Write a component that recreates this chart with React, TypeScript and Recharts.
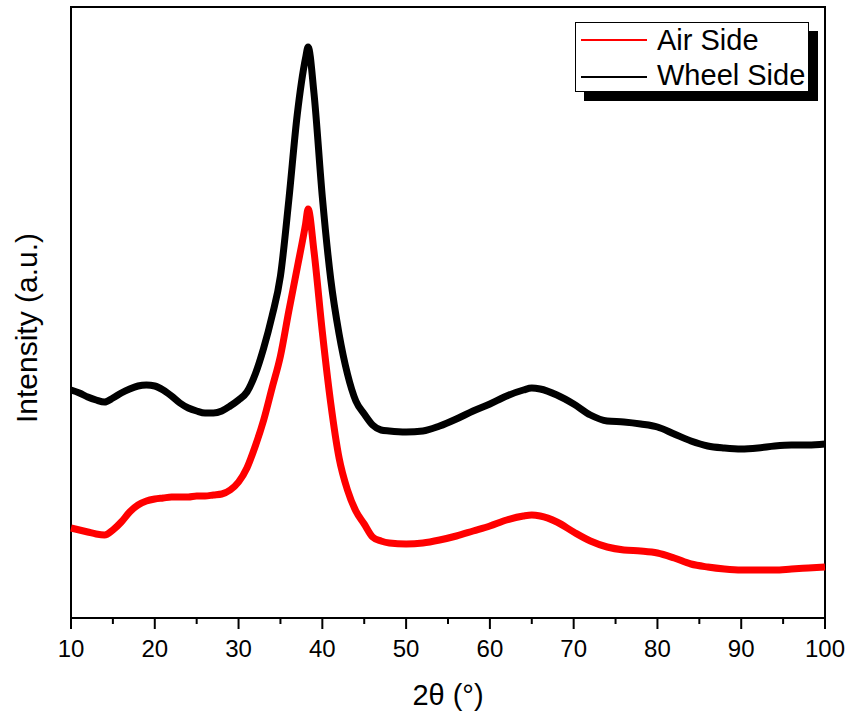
import { Line, LineChart, ReferenceArea, XAxis, YAxis } from 'recharts'

// 2θ positions (deg) and intensities (a.u.)
const twoTheta = [
  10, 11, 12, 13, 14, 15, 16, 17, 18, 19, 20, 21, 22, 23, 24, 25, 26, 27, 28, 29, 30, 31, 32, 33, 34, 35, 36, 37, 38,
  38.3, 39, 40, 41, 42, 43, 44, 45, 46, 47, 48, 50, 52, 54, 56, 58, 60, 62, 64, 65, 66, 68, 70, 72, 74, 76, 78, 80, 82,
  84, 86, 88, 90, 92, 94, 96, 98, 100,
]

const wheelSide = [
  228, 225, 221, 218, 216, 220, 225, 229, 232, 233, 232, 228, 222, 215, 210, 207, 205, 205, 207, 212, 218, 226, 244, 270,
  302, 342, 418, 503, 560, 571, 525, 421, 339, 284, 244, 217, 204, 193, 188, 187, 186, 187, 192, 199, 207, 214, 222, 228,
  230, 229, 223, 214, 203, 197, 196, 194, 191, 184, 177, 172, 170, 169, 170, 172, 173, 173, 174,
]

const airSide = [
  90, 88, 86, 84, 83, 88, 96, 106, 113, 117, 119, 120, 121, 121, 121, 122, 122, 123, 124, 128, 136, 150, 172, 198, 230,
  262, 307, 350, 394, 409, 367, 286, 215, 160, 128, 107, 94, 81, 77, 75, 74, 75, 78, 82, 87, 92, 98, 102, 103, 102, 96,
  86, 77, 71, 68, 67, 65, 60, 54, 51, 49, 48, 48, 48, 49, 50, 51,
]

const xTicks = [10, 15, 20, 25, 30, 35, 40, 45, 50, 55, 60, 65, 70, 75, 80, 85, 90, 95, 100]

const FONT = '"Liberation Sans", Arial, sans-serif'

const data = twoTheta.map((t, i) => ({ t, air: airSide[i], wheel: wheelSide[i] }))

function XTick(props: any) {
  const { x, y, payload } = props
  const major = payload.value % 10 === 0
  return (
    <g>
      <line x1={x} x2={x} y1={y} y2={y + (major ? 11 : 6)} stroke="#000" strokeWidth={2} />
      {major && (
        <text x={x} y={y + 39} textAnchor="middle" fontSize={24} fontFamily={FONT} fill="#000">
          {payload.value}
        </text>
      )}
    </g>
  )
}

export default function App() {
  return (
    <div style={{ position: 'absolute', left: 0, top: 0, width: 848, height: 715, background: '#fff' }}>
      <LineChart width={848} height={715} data={data} margin={{ top: 7, right: 23, left: 71, bottom: 0 }}>
        <XAxis
          dataKey="t"
          type="number"
          domain={[10, 100]}
          ticks={xTicks}
          interval={0}
          height={97}
          tickSize={0}
          tickMargin={0}
          tickLine={false}
          tick={<XTick />}
          axisLine={{ stroke: '#000', strokeWidth: 2 }}
          label={{ value: '2θ (°)', position: 'insideBottom', offset: 10, fontSize: 29, fontFamily: FONT, fill: '#000' }}
        />
        <YAxis hide domain={[0, 611]} />
        <ReferenceArea x1={10} x2={100} y1={0} y2={611} fill="none" stroke="#000" strokeWidth={2} />
        <Line
          type="monotone"
          dataKey="wheel"
          stroke="#000"
          strokeWidth={7}
          strokeLinejoin="round"
          dot={false}
          isAnimationActive={false}
        />
        <Line
          type="monotone"
          dataKey="air"
          stroke="#ff0000"
          strokeWidth={7}
          strokeLinejoin="round"
          dot={false}
          isAnimationActive={false}
        />
      </LineChart>

      <div
        style={{
          position: 'absolute',
          left: 26.6 - 150,
          top: 327.5 - 15,
          width: 300,
          height: 30,
          lineHeight: '30px',
          fontSize: 30,
          fontFamily: FONT,
          textAlign: 'center',
          transform: 'rotate(-90deg)',
          whiteSpace: 'nowrap',
        }}
      >
        Intensity (a.u.)
      </div>

      <div
        style={{
          position: 'absolute',
          left: 575,
          top: 22,
          width: 232,
          height: 68,
          border: '1px solid #000',
          background: '#fff',
          boxShadow: '9px 9px 0 #000',
          fontFamily: FONT,
          fontSize: 29,
          lineHeight: '29px',
        }}
      >
        <div style={{ position: 'absolute', left: 5, top: 16, width: 66, height: 2, background: '#ff0000' }} />
        <div style={{ position: 'absolute', left: 81, top: 3, whiteSpace: 'nowrap' }}>Air Side</div>
        <div style={{ position: 'absolute', left: 5, top: 53, width: 66, height: 2, background: '#000' }} />
        <div style={{ position: 'absolute', left: 81, top: 38, whiteSpace: 'nowrap' }}>Wheel Side</div>
      </div>
    </div>
  )
}
